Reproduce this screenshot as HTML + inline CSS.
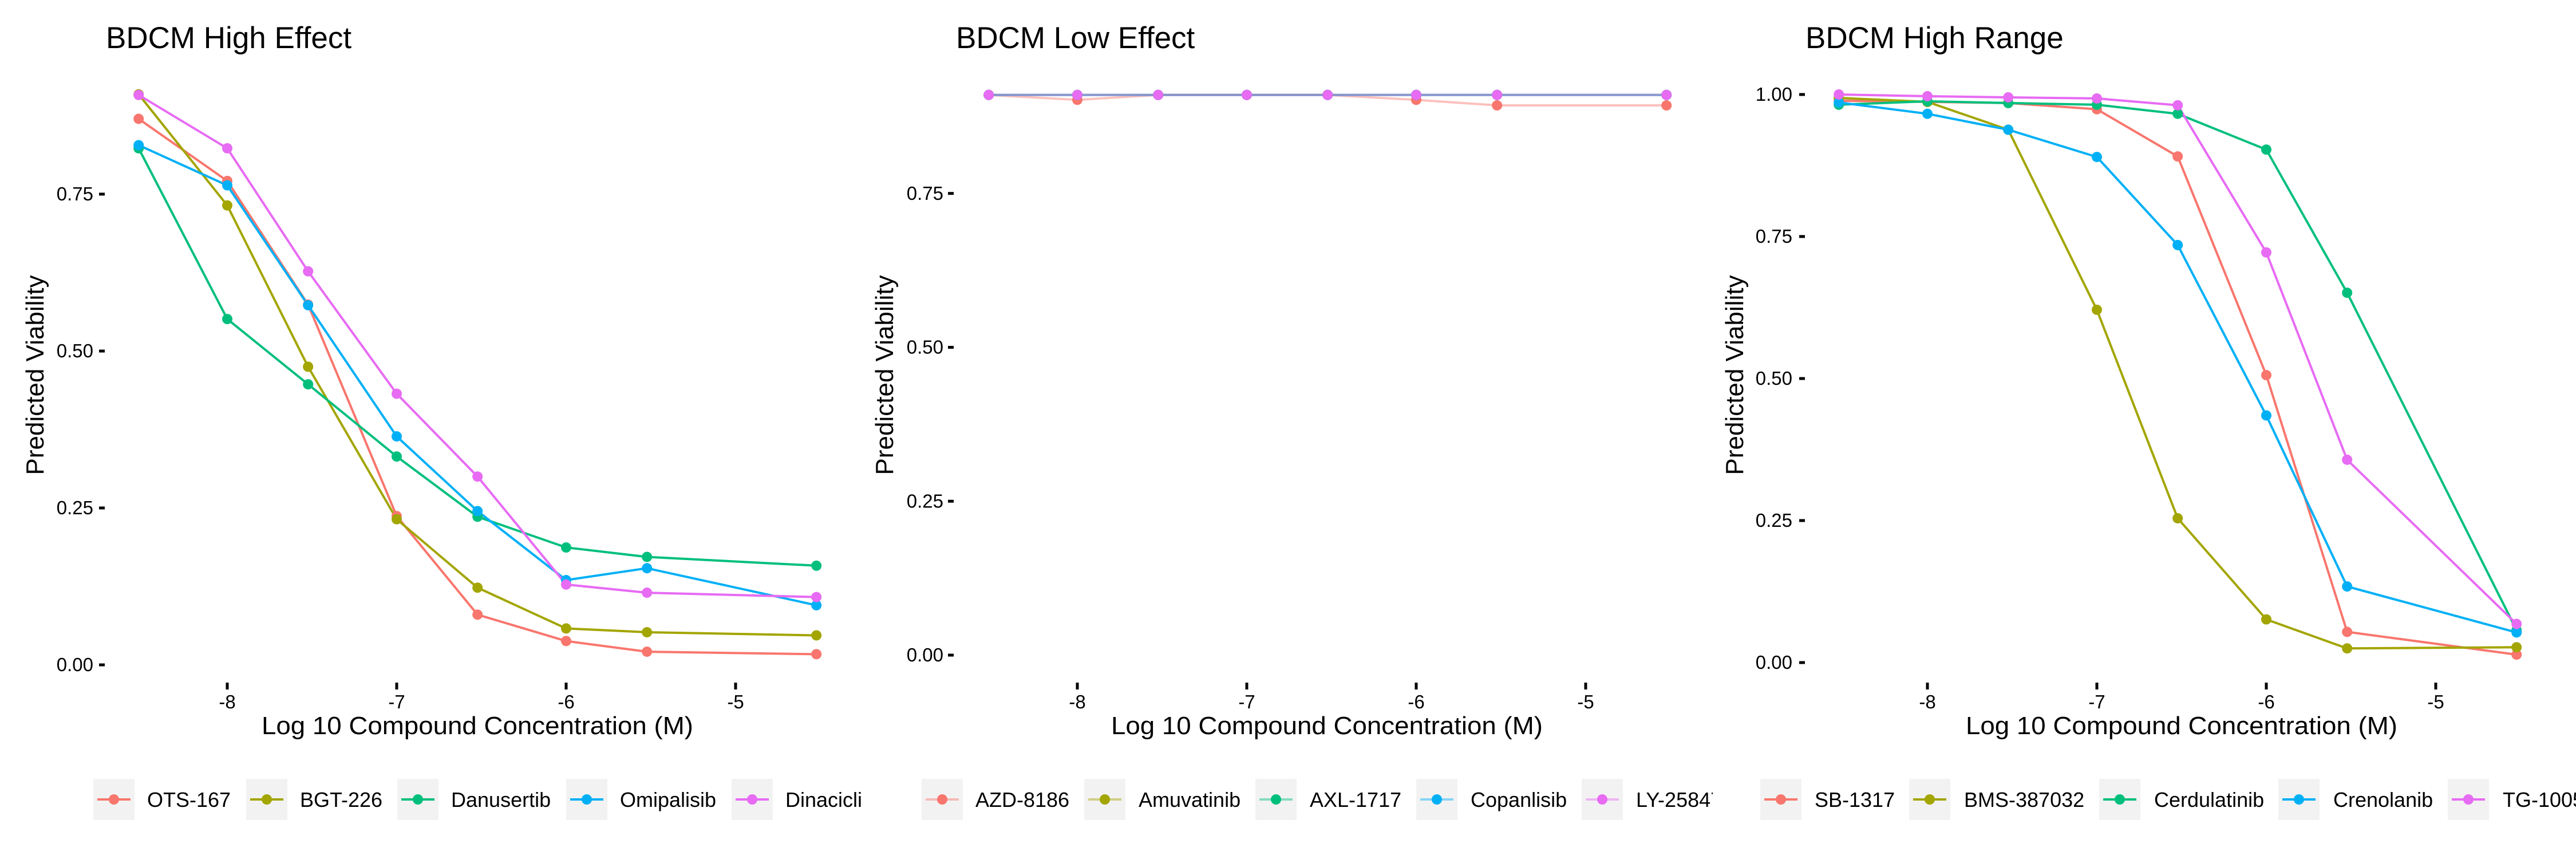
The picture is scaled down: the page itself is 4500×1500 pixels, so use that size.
<!DOCTYPE html>
<html><head><meta charset="utf-8">
<style>
html,body{margin:0;padding:0;background:#fff;}
svg{display:block;font-family:"Liberation Sans",Arial,sans-serif;}
</style></head>
<body>
<svg id="chart" xmlns="http://www.w3.org/2000/svg" width="4500" height="1500" viewBox="0 0 4500 1500">
<rect x="0" y="0" width="4500" height="1500" fill="#fff"/>
<defs>
<clipPath id="clip0"><rect x="0" y="0" width="1508" height="1500"/></clipPath>
<clipPath id="clip1"><rect x="1508" y="0" width="1484" height="1500"/></clipPath>
<clipPath id="clip2"><rect x="3000" y="0" width="1500" height="1500"/></clipPath>
</defs>
</svg>
<script>
// shared x values (log10 molar concentration)
const concentrations = [-8.523, -8, -7.523, -7, -6.523, -6, -5.523, -4.523];
const xTicks = [-8, -7, -6, -5];
const xTickLabels = ["-8", "-7", "-6", "-5"];
const seriesColors = ["#F8766D", "#A3A500", "#00BF7D", "#00B0F6", "#E76BF3"];

// Panel 1: BDCM High Effect
const p1Title = "BDCM High Effect";
const p1Drugs = ["OTS-167", "BGT-226", "Danusertib", "Omipalisib", "Dinaciclib"];
const p1OTS167 = [0.870, 0.771, 0.574, 0.237, 0.080, 0.038, 0.021, 0.017];
const p1BGT226 = [0.909, 0.732, 0.475, 0.232, 0.123, 0.058, 0.052, 0.047];
const p1Danusertib = [0.823, 0.551, 0.447, 0.332, 0.236, 0.187, 0.172, 0.158];
const p1Omipalisib = [0.828, 0.764, 0.573, 0.364, 0.245, 0.135, 0.154, 0.095];
const p1Dinaciclib = [0.908, 0.823, 0.627, 0.432, 0.300, 0.128, 0.115, 0.108];
const p1YTicks = [0, 0.25, 0.5, 0.75];
const p1YTickLabels = ["0.00", "0.25", "0.50", "0.75"];

// Panel 2: BDCM Low Effect
const p2Title = "BDCM Low Effect";
const p2Drugs = ["AZD-8186", "Amuvatinib", "AXL-1717", "Copanlisib", "LY-2584702"];
const p2AZD8186 = [0.910, 0.902, 0.910, 0.910, 0.910, 0.902, 0.893, 0.893];
const p2Amuvatinib = [0.910, 0.910, 0.910, 0.910, 0.910, 0.910, 0.910, 0.910];
const p2AXL1717 = [0.910, 0.910, 0.910, 0.910, 0.910, 0.910, 0.910, 0.910];
const p2Copanlisib = [0.910, 0.910, 0.910, 0.910, 0.910, 0.910, 0.910, 0.910];
const p2LY2584 = [0.910, 0.910, 0.910, 0.910, 0.910, 0.910, 0.910, 0.910];
const p2YTicks = [0, 0.25, 0.5, 0.75];
const p2YTickLabels = ["0.00", "0.25", "0.50", "0.75"];

// Panel 3: BDCM High Range
const p3Title = "BDCM High Range";
const p3Drugs = ["SB-1317", "BMS-387032", "Cerdulatinib", "Crenolanib", "TG-100572"];
const p3SB1317 = [0.989, 0.987, 0.985, 0.974, 0.891, 0.506, 0.054, 0.014];
const p3BMS387032 = [0.994, 0.987, 0.938, 0.621, 0.254, 0.076, 0.025, 0.027];
const p3Cerdulatinib = [0.982, 0.988, 0.985, 0.982, 0.966, 0.903, 0.651, 0.057];
const p3Crenolanib = [0.986, 0.966, 0.938, 0.890, 0.735, 0.435, 0.134, 0.053];
const p3TG100572 = [1.000, 0.997, 0.995, 0.993, 0.981, 0.722, 0.357, 0.068];
const p3YTicks = [0, 0.25, 0.5, 0.75, 1.0];
const p3YTickLabels = ["0.00", "0.25", "0.50", "0.75", "1.00"];

const NS = "http://www.w3.org/2000/svg";
const svg = document.getElementById("chart");
function mk(tag, attrs, parent) {
  const e = document.createElementNS(NS, tag);
  for (const k in attrs) e.setAttribute(k, attrs[k]);
  (parent || svg).appendChild(e);
  return e;
}

const panels = [
  {title: p1Title, drugs: p1Drugs, series: [p1OTS167, p1BGT226, p1Danusertib, p1Omipalisib, p1Dinaciclib],
   yTicks: p1YTicks, yLabels: p1YTickLabels, alpha: 1,
   x8: 397, y0: 1161, yUnit: 1096, tickX: 173, labelRight: 163, titleX: 185, ytitleX: 76, xtitleC: 834,
   keys: [163, 430, 694, 989, 1278], texts: [257, 524, 788, 1083, 1372]},
  {title: p2Title, drugs: p2Drugs, series: [p2AZD8186, p2Amuvatinib, p2AXL1717, p2Copanlisib, p2LY2584],
   yTicks: p2YTicks, yLabels: p2YTickLabels, alpha: 0.45,
   x8: 1882, y0: 1144, yUnit: 1075, tickX: 1656, labelRight: 1648, titleX: 1670, ytitleX: 1560, xtitleC: 2318,
   keys: [1610, 1894, 2193, 2474, 2763], texts: [1704, 1989, 2288, 2569, 2858]},
  {title: p3Title, drugs: p3Drugs, series: [p3SB1317, p3BMS387032, p3Cerdulatinib, p3Crenolanib, p3TG100572],
   yTicks: p3YTicks, yLabels: p3YTickLabels, alpha: 1,
   x8: 3367, y0: 1157, yUnit: 992, tickX: 3143, labelRight: 3131, titleX: 3154, ytitleX: 3045, xtitleC: 3811,
   keys: [3075, 3335, 3667, 3980, 4276], texts: [3170, 3431, 3763, 4076, 4372]}
];

panels.forEach((p, pi) => {
  const xs = v => p.x8 + (v + 8) * 296;
  const ys = v => p.y0 - v * p.yUnit;
  const g = mk("g", {"clip-path": "url(#clip" + pi + ")"});
  
  

  const t = mk("text", {x: p.titleX, y: 84, "font-size": 53, fill: "#000"}, g);
  t.textContent = p.title;
  
  

  // y axis
  p.yTicks.forEach((v, i) => {
    const tk = mk("line", {x1: p.tickX, x2: p.tickX + 10, y1: ys(v), y2: ys(v), stroke: "#000", "stroke-width": 5}, g);
    
    
    const lb = mk("text", {x: p.labelRight, y: ys(v) + 11, "font-size": 33, "text-anchor": "end", fill: "#000"}, g);
    lb.textContent = p.yLabels[i];
    
    
  });
  // x axis
  xTicks.forEach((v, i) => {
    const tk = mk("line", {x1: xs(v), x2: xs(v), y1: 1192, y2: 1204, stroke: "#000", "stroke-width": 5}, g);
    
    
    const lb = mk("text", {x: xs(v), y: 1237, "font-size": 33, "text-anchor": "middle", fill: "#000"}, g);
    lb.textContent = xTickLabels[i];
    
    
  });
  const xt = mk("text", {x: p.xtitleC, y: 1282, "font-size": 44, "text-anchor": "middle", fill: "#000", textLength: 754, lengthAdjust: "spacingAndGlyphs"}, g);
  xt.textContent = "Log 10 Compound Concentration (M)";
  
  
  const yt = mk("text", {x: 0, y: 0, "font-size": 44, "text-anchor": "middle", fill: "#000",
    transform: "translate(" + p.ytitleX + ",655) rotate(-90)"}, g);
  yt.textContent = "Predicted Viability";
  
  

  // lines
  p.series.forEach((vals, si) => {
    const pts = vals.map((v, i) => xs(concentrations[i]).toFixed(1) + "," + ys(v).toFixed(1)).join(" ");
    const l = mk("polyline", {points: pts, fill: "none", stroke: seriesColors[si], "stroke-width": 4, "stroke-opacity": p.alpha, "stroke-linejoin": "round"}, g);
    
    
  });
  // points
  p.series.forEach((vals, si) => {
    vals.forEach((v, i) => {
      const c = mk("circle", {cx: xs(concentrations[i]), cy: ys(v), r: 9, fill: seriesColors[si]}, g);
      
      
    });
  });

  // legend
  p.drugs.forEach((d, si) => {
    const kx = p.keys[si];
    const kg = mk("g", {}, g);
    
    
    mk("rect", {x: kx, y: 1360, width: 72, height: 72, fill: "#F2F2F2"}, kg);
    mk("line", {x1: kx + 7, x2: kx + 65, y1: 1396, y2: 1396, stroke: seriesColors[si], "stroke-width": 4, "stroke-opacity": p.alpha}, kg);
    mk("circle", {cx: kx + 36, cy: 1396, r: 9, fill: seriesColors[si]}, kg);
    const tx = mk("text", {x: p.texts[si], y: 1409, "font-size": 36, fill: "#000"}, kg);
    tx.textContent = d;
  });
});
</script>
</body></html>
